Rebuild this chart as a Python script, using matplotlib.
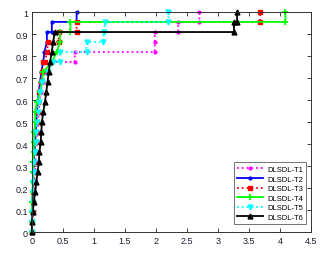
import matplotlib
matplotlib.use("Agg")
import matplotlib.pyplot as plt

# ---- data (FPR, TPR) ----
t1_x = [0, 0, 0.01, 0.02, 0.03, 0.04, 0.05, 0.06, 0.07, 0.08, 0.09, 0.10, 0.11, 0.12, 0.14, 0.17, 0.22, 0.30,
        0.69, 0.69, 1.98, 1.98, 1.98, 2.36, 2.36, 2.70, 2.70]
t1_y = [0, 0.045, 0.091, 0.136, 0.182, 0.227, 0.273, 0.318, 0.364, 0.409, 0.455, 0.5, 0.545, 0.591, 0.636, 0.682, 0.727, 0.773,
        0.773, 0.818, 0.818, 0.864, 0.909, 0.909, 0.955, 0.955, 1.0]

t2_x = [0, 0, 0.0, 0.01, 0.01, 0.02, 0.02, 0.03, 0.04, 0.05, 0.06, 0.07, 0.08, 0.09, 0.11, 0.13, 0.15, 0.18, 0.20,
        0.24, 0.24, 0.32, 0.32, 0.72, 0.72]
t2_y = [0, 0.045, 0.091, 0.136, 0.182, 0.227, 0.273, 0.318, 0.364, 0.409, 0.455, 0.5, 0.545, 0.591, 0.636, 0.682, 0.727, 0.773, 0.818,
        0.864, 0.909, 0.909, 0.955, 0.955, 1.0]

t3_x = [0, 0, 0.01, 0.01, 0.02, 0.03, 0.03, 0.04, 0.05, 0.06, 0.07, 0.08, 0.09, 0.10, 0.12, 0.14, 0.16, 0.18, 0.21, 0.24,
        0.26, 0.43, 0.43, 0.72, 0.72, 3.68, 3.68]
t3_y = [0, 0.045, 0.091, 0.136, 0.182, 0.227, 0.273, 0.318, 0.364, 0.409, 0.455, 0.5, 0.545, 0.591, 0.636, 0.682, 0.727, 0.773, 0.773, 0.818,
        0.864, 0.864, 0.909, 0.909, 0.955, 0.955, 1.0]

t4_x = [0, 0, 0.0, 0.0, 0.01, 0.01, 0.02, 0.02, 0.03, 0.03, 0.04, 0.05, 0.05, 0.08, 0.13, 0.16, 0.18, 0.32, 0.40,
        0.45, 0.45, 0.62, 0.62, 4.09, 4.09]
t4_y = [0, 0.045, 0.091, 0.136, 0.182, 0.227, 0.273, 0.318, 0.364, 0.409, 0.455, 0.5, 0.545, 0.591, 0.636, 0.682, 0.727, 0.773, 0.818,
        0.864, 0.909, 0.909, 0.955, 0.955, 1.0]

t5_x = [0, 0, 0, 0.01, 0.01, 0.02, 0.03, 0.04, 0.05, 0.06, 0.07, 0.08, 0.09, 0.11, 0.13, 0.16, 0.25, 0.34,
        0.45, 0.45, 0.88, 0.88, 1.14, 1.16, 1.18, 2.20, 2.20]
t5_y = [0, 0.045, 0.091, 0.136, 0.182, 0.227, 0.273, 0.318, 0.364, 0.409, 0.455, 0.5, 0.545, 0.591, 0.636, 0.682, 0.727, 0.773,
        0.773, 0.818, 0.818, 0.864, 0.864, 0.909, 0.955, 0.955, 1.0]

t6_x = [0, 0, 0.01, 0.03, 0.05, 0.07, 0.09, 0.11, 0.12, 0.14, 0.15, 0.16, 0.18, 0.21, 0.23, 0.25, 0.27, 0.29, 0.32, 0.34,
        0.37, 3.26, 3.26, 3.31, 3.31]
t6_y = [0, 0.045, 0.091, 0.136, 0.182, 0.227, 0.273, 0.318, 0.364, 0.409, 0.455, 0.5, 0.545, 0.591, 0.636, 0.682, 0.727, 0.773, 0.818, 0.864,
        0.909, 0.909, 0.955, 0.955, 1.0]

labels = ["DLSDL-T1", "DLSDL-T2", "DLSDL-T3", "DLSDL-T4", "DLSDL-T5", "DLSDL-T6"]
xticks = [0, 0.5, 1, 1.5, 2, 2.5, 3, 3.5, 4, 4.5]
xtick_labels = ["0", "0.5", "1", "1.5", "2", "2.5", "3", "3.5", "4", "4.5"]
yticks = [0, 0.1, 0.2, 0.3, 0.4, 0.5, 0.6, 0.7, 0.8, 0.9, 1.0]
ytick_labels = ["0", "0.1", "0.2", "0.3", "0.4", "0.5", "0.6", "0.7", "0.8", "0.9", "1"]

plt.rcParams['font.family'] = ['Liberation Sans', 'DejaVu Sans']

fig = plt.figure(figsize=(3.3, 2.55), dpi=100)
ax = fig.add_axes([0.097, 0.086, 0.845, 0.863])

series = [
    (t1_x, t1_y, dict(color='#ff00ff', ls=':', marker='.', ms=4)),
    (t2_x, t2_y, dict(color='#0000ff', ls='-', marker='.', ms=4)),
    (t3_x, t3_y, dict(color='#ff0000', ls=':', marker='s', ms=3)),
    (t4_x, t4_y, dict(color='#00ff00', ls='-', marker='+', ms=4.5, mew=1.3)),
    (t5_x, t5_y, dict(color='#00ffff', ls=':', marker='v', ms=3.5)),
    (t6_x, t6_y, dict(color='#000000', ls='-', marker='^', ms=3.5)),
]
for (x, y, st), lab in zip(series, labels):
    ax.plot(x, y, lw=1.3, label=lab, clip_on=False, **st)

ax.set_xlim(0, 4.5)
ax.set_ylim(0, 1)
ax.set_xticks(xticks)
ax.set_xticklabels(xtick_labels)
ax.set_yticks(yticks)
ax.set_yticklabels(ytick_labels)
tc = '#1c1c30'
ax.tick_params(direction='in', length=3, width=0.6, top=True, right=True,
               labelsize=6.5, colors=tc, pad=3)
for s in ax.spines.values():
    s.set_linewidth(0.7)
    s.set_color('#333333')

leg = ax.legend(loc='lower right', bbox_to_anchor=(0.982, 0.036), fontsize=5.5,
                frameon=True, fancybox=False, edgecolor='#333333',
                handlelength=3.4, labelspacing=0.3, borderpad=0.4,
                handletextpad=0.5, borderaxespad=0)
leg.get_frame().set_linewidth(0.6)

fig.savefig("out.png", dpi=100)
